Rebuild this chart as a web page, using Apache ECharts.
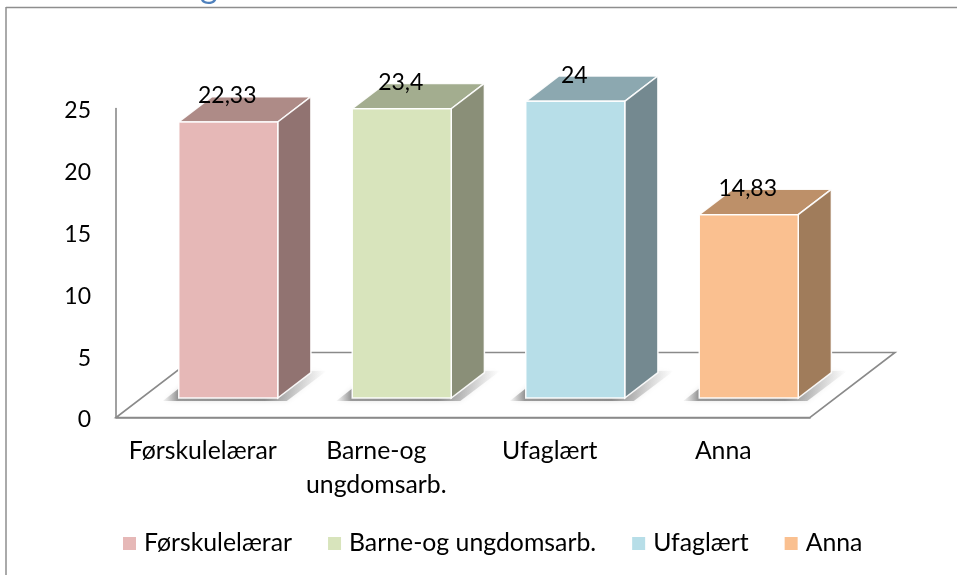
<!DOCTYPE html>
<html>
<head>
<meta charset="utf-8">
<style>html,body{margin:0;padding:0;background:#fff}#c{width:957px;height:575px}</style>
<script src="https://cdn.jsdelivr.net/npm/echarts@6/dist/echarts.min.js"></script>
</head>
<body>
<div id="c"></div>
<script>
const categories = ['Førskulelærar', 'Barne-og ungdomsarb.', 'Ufaglært', 'Anna'];
const values = [22.33, 23.4, 24, 14.83];
const yTicks = [0, 5, 10, 15, 20, 25];
const frontColors = ['#e6b8b7', '#d8e4bc', '#b7dee8', '#fac090'];
const sideColors = ['#917371', '#8a8f78', '#748990', '#a07c5b'];
const topColors = ['#ae8b87', '#a3ad8f', '#8ca8b0', '#bd9069'];

const FONT = 'Lato';
const FS = 24.8;    // words
const FS_NUM = 23;  // digits
const GREY = '#8a8a8a';
// Oblique depth of the 3D floor, and where a bar sits in it
const DEPTH_X = 85, DEPTH_Y = -65;
const NEAR = 0.30, FAR = 0.69;
const BAR_W = 99;
const EDGE = { stroke: 'rgba(255,255,255,0.92)', lineWidth: 1.5, lineJoin: 'miter' };

function poly(points, fill, extra) {
  return { type: 'polygon', shape: { points }, style: Object.assign({ fill }, EDGE, extra || {}) };
}

function renderFloor(params, api) {
  const a = api.coord([0, 0]);
  const cs = params.coordSys;
  const l = cs.x, r = cs.x + cs.width, y = a[1];
  return {
    type: 'polygon',
    shape: { points: [[l, y], [r, y], [r + DEPTH_X, y + DEPTH_Y], [l + DEPTH_X, y + DEPTH_Y]] },
    style: { fill: 'none', stroke: GREY, lineWidth: 1.6 }
  };
}

function renderBar(params, api) {
  const i = api.value(0), v = api.value(1), idx = params.seriesIndex - 1;
  const base = api.coord([i, 0]), top = api.coord([i, v]);
  const nx = DEPTH_X * NEAR, ny = DEPTH_Y * NEAR;
  const dx = DEPTH_X * (FAR - NEAR), dy = DEPTH_Y * (FAR - NEAR);
  const L = base[0] + nx - BAR_W / 2, R = L + BAR_W;
  const B = base[1] + ny, T = top[1] + ny;
  const sx0 = L - 16, sy0 = B + 3;
  const grad = {
    type: 'linear', x: 0, y: 0, x2: 1, y2: 0,
    colorStops: [
      { offset: 0, color: 'rgba(130,130,130,0.05)' },
      { offset: 0.09, color: 'rgba(100,100,100,0.62)' },
      { offset: 0.62, color: 'rgba(100,100,100,0.7)' },
      { offset: 0.82, color: 'rgba(130,130,130,0.34)' },
      { offset: 1, color: 'rgba(150,150,150,0)' }
    ]
  };
  return {
    type: 'group',
    children: [
      { type: 'polygon',
        shape: { points: [[sx0, sy0], [sx0 + 37, sy0 - 29], [R + dx + 16, B + dy - 2], [R + 9, sy0]] },
        style: { fill: grad, shadowBlur: 5, shadowColor: 'rgba(130,130,130,0.35)' } },
      poly([[L, T], [L + dx, T + dy], [R + dx, T + dy], [R, T]], topColors[idx]),
      poly([[R, T], [R + dx, T + dy], [R + dx, B + dy], [R, B]], sideColors[idx]),
      poly([[L, T], [R, T], [R, B], [L, B]], frontColors[idx]),
      { type: 'text',
        style: { text: String(v).replace('.', ','), x: (L + R) / 2 - 1, y: T - 26,
          align: 'center', verticalAlign: 'middle', fill: '#000', font: FS_NUM + 'px ' + FONT } }
    ]
  };
}

const series = [{
  name: 'floor', type: 'custom', silent: true, renderItem: renderFloor,
  data: [[0, 0]], encode: { x: 0, y: 1 }, z: 1
}];
categories.forEach((c, i) => series.push({
  name: c, type: 'custom', renderItem: renderBar,
  data: [[i, values[i]]], encode: { x: 0, y: 1 }, z: 2,
  itemStyle: { color: frontColors[i] }
}));

const chart = echarts.init(document.getElementById('c'), null, { renderer: 'canvas' });
chart.setOption({
  animation: false,
  backgroundColor: '#fff',
  grid: { left: 116, right: 147, top: 108.5, bottom: 157.5 },
  legend: {
    data: categories, left: 118, top: 526, itemWidth: 13, itemHeight: 13, itemGap: 36,
    icon: 'rect', selectedMode: false,
    textStyle: { fontFamily: FONT, fontSize: FS, color: '#000', padding: [0, 0, 0, 3] }
  },
  xAxis: {
    type: 'category', data: categories, boundaryGap: true,
    axisLine: { lineStyle: { color: GREY, width: 1.6 } }, axisTick: { show: false },
    axisLabel: { fontFamily: FONT, fontSize: FS, color: '#000', margin: 17, lineHeight: 34, interval: 0,
      formatter: v => v.replace(' ', '\n') }
  },
  yAxis: {
    type: 'value', min: yTicks[0], max: yTicks[yTicks.length - 1], interval: yTicks[1] - yTicks[0],
    splitLine: { show: false }, axisTick: { show: false },
    axisLine: { show: true, lineStyle: { color: GREY, width: 1.6 } },
    axisLabel: { fontSize: FS_NUM, fontFamily: FONT, color: '#000', margin: 25,
      formatter: '{n|{value}}',
      rich: { n: { fontFamily: FONT, fontSize: FS_NUM, color: '#000', padding: [5, 0, 0, 0] } } }
  },
  graphic: [
    { type: 'line', silent: true, shape: { x1: 6, y1: 7.5, x2: 957, y2: 7.5 }, style: { stroke: '#8e8e8e', lineWidth: 1.5 } },
    { type: 'line', silent: true, shape: { x1: 6, y1: 7, x2: 6, y2: 575 }, style: { stroke: '#8e8e8e', lineWidth: 1.5 } },
    { type: 'text', silent: true, x: 200, y: -30, style: { text: 'g', fill: '#4f81bd', font: '34px ' + FONT } }
  ],
  series
});
</script>
</body>
</html>
